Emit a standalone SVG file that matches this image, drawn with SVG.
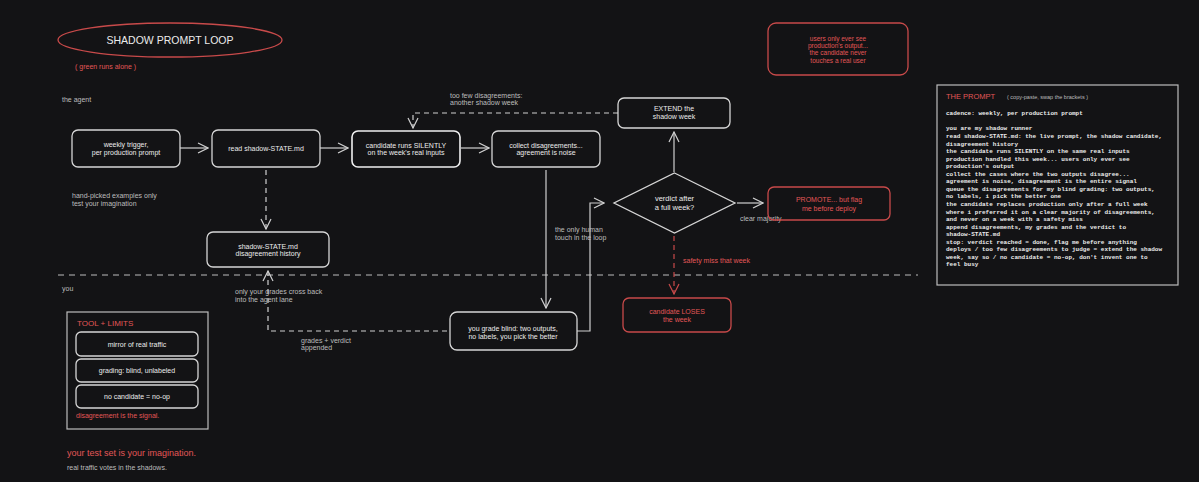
<svg xmlns="http://www.w3.org/2000/svg" width="1199" height="482" viewBox="0 0 1199 482">
<style>
.bg{fill:#131315}
.node{fill:#131315;stroke:#d6d6d6;stroke-width:1.3}
.rnode{fill:none;stroke:#c84a4a;stroke-width:1.3}
.t{font-family:"Liberation Sans",Arial,sans-serif;font-size:7px;fill:#ececec;text-anchor:middle}
.l{font-family:"Liberation Sans",Arial,sans-serif;font-size:7px;fill:#bdbdbd}
.red{fill:#e25757}
.mono{font-family:"Liberation Mono","DejaVu Sans Mono",monospace;font-size:6px;fill:#ececec;font-weight:bold}
.c{stroke:#d0d0d0;stroke-width:1.2;fill:none}
.cr{stroke:#c84a4a;stroke-width:1.2;fill:none}
.d{stroke-dasharray:5 4}
</style>
<defs>
<marker id="aw" viewBox="0 0 12 12" refX="11" refY="6" markerWidth="12" markerHeight="12" markerUnits="userSpaceOnUse" orient="auto">
<path d="M1,1 L11,6 L1,11" fill="none" stroke="#d0d0d0" stroke-width="1.2"/>
</marker>
<marker id="ar" viewBox="0 0 12 12" refX="11" refY="6" markerWidth="12" markerHeight="12" markerUnits="userSpaceOnUse" orient="auto">
<path d="M1,1 L11,6 L1,11" fill="none" stroke="#c84a4a" stroke-width="1.2"/>
</marker>
</defs>
<rect class="bg" x="0" y="0" width="1199" height="482"/>

<!-- title -->
<g id="title">
<ellipse cx="170" cy="40" rx="112" ry="17" fill="none" stroke="#c84a4a" stroke-width="1.3"/>
<text class="t" x="170" y="44" style="font-size:10.5px">SHADOW PROMPT LOOP</text>
<text class="l red" x="75" y="69">( green runs alone )</text>
</g>

<!-- lane divider and lane labels -->
<g id="lanes">
<line x1="58" y1="275" x2="918" y2="275" stroke="#bdbdbd" stroke-width="1" stroke-dasharray="6 5"/>
<text class="l" x="62" y="102">the agent</text>
<text class="l" x="62" y="291">you</text>
<text class="l" x="72" y="198">hand-picked examples only</text>
<text class="l" x="72" y="206">test your imagination</text>
</g>

<!-- connectors -->
<g id="connectors">
<path class="c" d="M180,148 L208,148" marker-end="url(#aw)"/>
<path class="c" d="M320,148 L348,148" marker-end="url(#aw)"/>
<path class="c" d="M461,148 L489,148" marker-end="url(#aw)"/>
<path class="c d" d="M266,170 L266,229" marker-end="url(#aw)"/>
<path class="c" d="M546,170 L546,308" marker-end="url(#aw)"/>
<path class="c" d="M577,331 L590,331 L590,203 L604,203" marker-end="url(#aw)"/>
<path class="c" d="M674,172 L674,132" marker-end="url(#aw)"/>
<path class="c d" d="M618,113 L413,113 L413,128" marker-end="url(#aw)"/>
<path class="c" d="M737,203 L763,203" marker-end="url(#aw)"/>
<path class="cr d" d="M674,236 L674,294" marker-end="url(#ar)"/>
<path class="c d" d="M447,331 L268,331 L268,271" marker-end="url(#aw)"/>
<text class="l" x="450" y="97.5">too few disagreements:</text>
<text class="l" x="450" y="105">another shadow week</text>
<text class="l" x="555" y="232">the only human</text>
<text class="l" x="555" y="240">touch in the loop</text>
<text class="l" x="740" y="221">clear majority</text>
<text class="l red" x="683" y="263">safety miss that week</text>
<text class="l" x="235" y="293.5">only your grades cross back</text>
<text class="l" x="235" y="301.5">into the agent lane</text>
<text class="l" x="301" y="342.5">grades + verdict</text>
<text class="l" x="301" y="350">appended</text>
</g>

<g id="n-weekly">
<rect class="node" x="72" y="130" width="108" height="37" rx="6"/>
<text class="t" x="126" y="147">weekly trigger,</text>
<text class="t" x="126" y="155">per production prompt</text>
</g>
<g id="n-read">
<rect class="node" x="212" y="130" width="108" height="37" rx="6"/>
<text class="t" x="266" y="150.5">read shadow-STATE.md</text>
</g>
<g id="n-candidate">
<rect class="node" x="352" y="131" width="108" height="36" rx="6" style="stroke:#f0f0f0;stroke-width:1.6"/>
<text class="t" x="406" y="147.5">candidate runs SILENTLY</text>
<text class="t" x="406" y="155">on the week's real inputs</text>
</g>
<g id="n-collect">
<rect class="node" x="492" y="131" width="108" height="36" rx="6"/>
<text class="t" x="546" y="147.5">collect disagreements...</text>
<text class="t" x="546" y="155">agreement is noise</text>
</g>
<g id="n-history">
<rect class="node" x="207" y="232" width="122" height="35" rx="6"/>
<text class="t" x="268" y="248.5">shadow-STATE.md</text>
<text class="t" x="268" y="256">disagreement history</text>
</g>
<g id="n-extend">
<rect class="node" x="618" y="98" width="112" height="30" rx="6"/>
<text class="t" x="674" y="111">EXTEND the</text>
<text class="t" x="674" y="119">shadow week</text>
</g>
<g id="n-verdict">
<polygon class="node" points="674.5,173 735,203 674.5,233 614,203"/>
<text class="t" x="674.5" y="200.5" style="font-size:7.5px">verdict after</text>
<text class="t" x="674.5" y="209.5" style="font-size:7.5px">a full week?</text>
</g>
<g id="n-promote">
<rect class="rnode" x="768" y="187" width="122" height="33" rx="6"/>
<text class="t red" x="829" y="201.5">PROMOTE... but flag</text>
<text class="t red" x="829" y="210.5">me before deploy</text>
</g>
<g id="n-loses">
<rect class="rnode" x="623" y="298" width="108" height="34" rx="6"/>
<text class="t red" x="677" y="313.5">candidate LOSES</text>
<text class="t red" x="677" y="321.5">the week</text>
</g>
<g id="n-grade">
<rect class="node" x="450" y="312" width="127" height="38" rx="7"/>
<text class="t" x="513" y="330.5">you grade blind: two outputs,</text>
<text class="t" x="513" y="338.5">no labels, you pick the better</text>
</g>
<g id="n-note">
<rect class="rnode" x="768" y="23" width="140" height="52" rx="8"/>
<text class="t red" x="838" y="40.5" style="font-size:6.5px">users only ever see</text>
<text class="t red" x="838" y="48" style="font-size:6.5px">production's output...</text>
<text class="t red" x="838" y="55" style="font-size:6.5px">the candidate never</text>
<text class="t red" x="838" y="62.5" style="font-size:6.5px">touches a real user</text>
</g>

<g id="n-tools">
<rect x="67" y="312" width="141" height="117" fill="#131315" stroke="#bdbdbd" stroke-width="1.2"/>
<text class="l red" x="77" y="326" style="font-size:8px">TOOL + LIMITS</text>
<rect class="node" x="76" y="332" width="122" height="24" rx="5"/>
<text class="t" x="137" y="346.5">mirror of real traffic</text>
<rect class="node" x="76" y="359" width="122" height="23" rx="5"/>
<text class="t" x="137" y="373">grading: blind, unlabeled</text>
<rect class="node" x="76" y="385" width="122" height="23" rx="5"/>
<text class="t" x="137" y="399">no candidate = no-op</text>
<text class="l red" x="76" y="418">disagreement is the signal.</text>
</g>

<g id="footer">
<text class="l red" x="67" y="456" style="font-size:9px">your test set is your imagination.</text>
<text class="l" x="67" y="469.5">real traffic votes in the shadows.</text>
</g>

<g id="n-prompt">
<rect x="937" y="85" width="241" height="200" fill="#131315" stroke="#bdbdbd" stroke-width="1.2"/>
<text class="l red" x="946" y="98.5" style="font-size:7.5px">THE PROMPT</text>
<text class="l" x="1007" y="98.5" style="font-size:5.5px">( copy-paste, swap the brackets )</text>
<text class="mono" x="946" y="114.8">cadence: weekly, per production prompt</text>
<text class="mono" x="946" y="130.4">
<tspan x="946" dy="0">you are my shadow runner</tspan>
<tspan x="946" dy="7.56">read shadow-STATE.md: the live prompt, the shadow candidate,</tspan>
<tspan x="946" dy="7.56">disagreement history</tspan>
<tspan x="946" dy="7.56">the candidate runs SILENTLY on the same real inputs</tspan>
<tspan x="946" dy="7.56">production handled this week... users only ever see</tspan>
<tspan x="946" dy="7.56">production's output</tspan>
<tspan x="946" dy="7.56">collect the cases where the two outputs disagree...</tspan>
<tspan x="946" dy="7.56">agreement is noise, disagreement is the entire signal</tspan>
<tspan x="946" dy="7.56">queue the disagreements for my blind grading: two outputs,</tspan>
<tspan x="946" dy="7.56">no labels, i pick the better one</tspan>
<tspan x="946" dy="7.56">the candidate replaces production only after a full week</tspan>
<tspan x="946" dy="7.56">where i preferred it on a clear majority of disagreements,</tspan>
<tspan x="946" dy="7.56">and never on a week with a safety miss</tspan>
<tspan x="946" dy="7.56">append disagreements, my grades and the verdict to</tspan>
<tspan x="946" dy="7.56">shadow-STATE.md</tspan>
<tspan x="946" dy="7.56">stop: verdict reached = done, flag me before anything</tspan>
<tspan x="946" dy="7.56">deploys / too few disagreements to judge = extend the shadow</tspan>
<tspan x="946" dy="7.56">week, say so / no candidate = no-op, don't invent one to</tspan>
<tspan x="946" dy="7.56">feel busy</tspan>
</text>
</g>
</svg>
